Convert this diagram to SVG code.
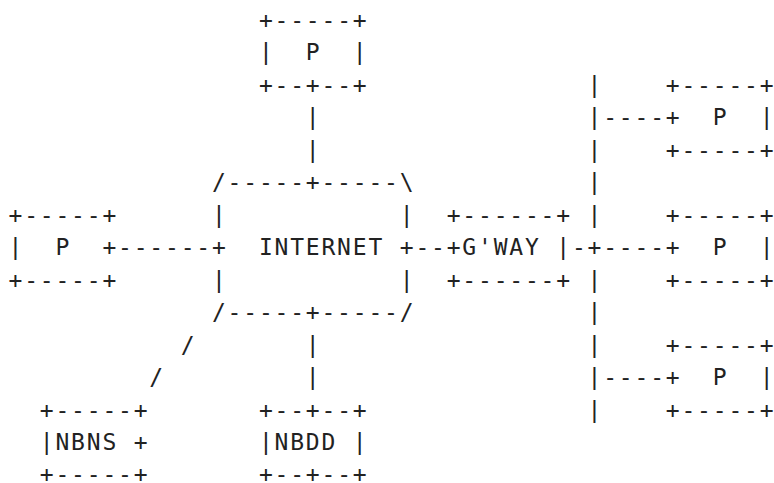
<svg xmlns="http://www.w3.org/2000/svg" width="774" height="483" viewBox="0 0 774 483" xml:space="preserve">
<style>
text { font-family: "DejaVu Sans Mono", "Liberation Mono", monospace; font-size: 23px; letter-spacing: 1.8px; fill: #222; white-space: pre; }
</style>
<rect width="774" height="483" fill="#fff"/>
<g id="p-top">
<text x="258.9" y="27.5">+-----+</text>
<text x="258.9" y="60">|  P  |</text>
<text x="258.9" y="92.5">+--+--+</text>
</g>
<g id="p-left">
<text x="8.5" y="222.5">+-----+</text>
<text x="8.5" y="255">|  P  +</text>
<text x="8.5" y="287.5">+-----+</text>
</g>
<g id="internet">
<text x="211.95" y="190">/-----+-----\</text>
<text x="211.95" y="222.5">|           |</text>
<text x="211.95" y="255">+  INTERNET +</text>
<text x="211.95" y="287.5">|           |</text>
<text x="211.95" y="320">/-----+-----/</text>
</g>
<g id="gway">
<text x="446.7" y="222.5">+------+</text>
<text x="446.7" y="255">+G'WAY |</text>
<text x="446.7" y="287.5">+------+</text>
</g>
<g id="p-right-1">
<text x="665.8" y="92.5">+-----+</text>
<text x="665.8" y="125">+  P  |</text>
<text x="665.8" y="157.5">+-----+</text>
</g>
<g id="p-right-2">
<text x="665.8" y="222.5">+-----+</text>
<text x="665.8" y="255">+  P  |</text>
<text x="665.8" y="287.5">+-----+</text>
</g>
<g id="p-right-3">
<text x="665.8" y="352.5">+-----+</text>
<text x="665.8" y="385">+  P  |</text>
<text x="665.8" y="417.5">+-----+</text>
</g>
<g id="nbns">
<text x="39.8" y="417.5">+-----+</text>
<text x="39.8" y="450">|NBNS +</text>
<text x="39.8" y="482">+-----+</text>
</g>
<g id="nbdd">
<text x="258.9" y="417.5">+--+--+</text>
<text x="258.9" y="450">|NBDD |</text>
<text x="258.9" y="482">+--+--+</text>
</g>
<g id="connectors">
<text x="305.85" y="125">|</text>
<text x="305.85" y="157.5">|</text>
<text x="118.05" y="255">------</text>
<text x="415.4" y="255">--</text>
<text x="571.9" y="255">-</text>
<text x="587.55" y="92.5">|</text>
<text x="587.55" y="125">|----</text>
<text x="587.55" y="157.5">|</text>
<text x="587.55" y="190">|</text>
<text x="587.55" y="222.5">|</text>
<text x="587.55" y="255">+----</text>
<text x="587.55" y="287.5">|</text>
<text x="587.55" y="320">|</text>
<text x="587.55" y="352.5">|</text>
<text x="587.55" y="385">|----</text>
<text x="587.55" y="417.5">|</text>
<text x="180.65" y="352.5">/</text>
<text x="149.35" y="385">/</text>
<text x="305.85" y="352.5">|</text>
<text x="305.85" y="385">|</text>
</g>
</svg>
